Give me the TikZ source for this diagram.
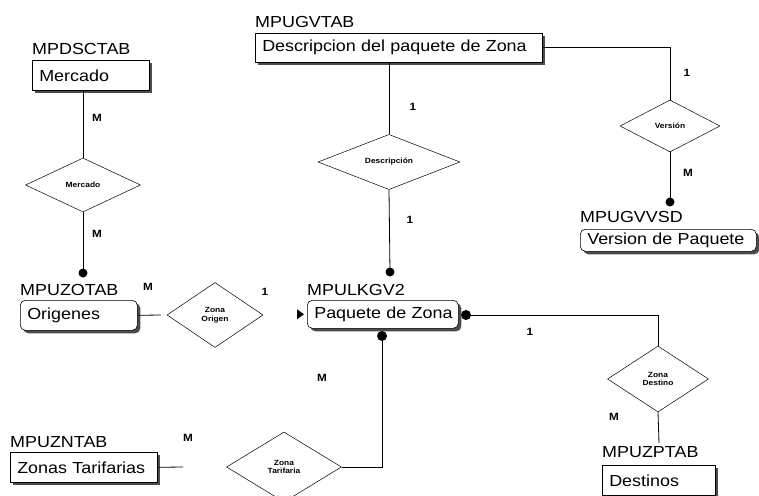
\documentclass[tikz,border=0pt]{standalone}
\usepackage{fontspec}
\setmainfont[FakeStretch=1.12]{Liberation Sans}
\usetikzlibrary{shapes.geometric,shadows}
\begin{document}
\begin{tikzpicture}[x=1pt,y=-1pt,
  ent/.style={draw, line width=0.6pt, fill=white, anchor=north west, inner xsep=7pt, inner ysep=0pt,
    align=left, font=\fontsize{16}{18}\selectfont,
    general shadow={fill=black!70, shadow xshift=3pt, shadow yshift=-3pt}},
  rent/.style={ent, rounded corners=5pt},
  tag/.style={anchor=base west, inner sep=0pt, font=\fontsize{16}{18}\selectfont},
  rel/.style={draw, diamond, line width=0.5pt, inner sep=0pt, align=center,
    font=\fontsize{7.5}{8.5}\selectfont\bfseries},
  card/.style={inner sep=0pt, font=\fontsize{10.5}{12}\selectfont\bfseries},
  ln/.style={line width=0.8pt},
  dot/.style={fill=black}
]
\useasboundingbox (0,0) rectangle (759,495);

% entities
\node[ent, text width=103pt, minimum height=30pt] (merc) at (32,60) {\mbox{Mercado}};
\node[tag] (mercT) at (32,55) {MPDSCTAB};
\node[ent, text width=273pt, minimum height=29pt] (desc) at (255,33) {\mbox{Descripcion del paquete de Zona}};
\node[tag] (descT) at (255,28) {MPUGVTAB};
\node[rent, text width=162pt, minimum height=22pt] (vers) at (580,229) {\mbox{Version de Paquete}};
\node[tag] (versT) at (580,222) {MPUGVVSD};
\node[rent, text width=103pt, minimum height=30pt] (orig) at (20,300) {\mbox{Origenes}};
\node[tag] (origT) at (20,295) {MPUZOTAB};
\node[rent, text width=137pt, minimum height=28pt] (paq) at (307,300) {\mbox{Paquete de Zona}};
\node[tag] (paqT) at (307,295) {MPULKGV2};
\node[ent, text width=133pt, minimum height=30pt] (tar) at (10,452) {\mbox{Zonas Tarifarias}};
\node[tag] (tarT) at (10,447) {MPUZNTAB};
\node[ent, text width=99pt, minimum height=30pt] (dest) at (602,465) {\mbox{Destinos}};
\node[tag] (destT) at (602,457) {MPUZPTAB};

% relationships
\node[rel, minimum width=115pt, minimum height=54pt] (dMerc) at (83,185) {Mercado};
\node[rel, minimum width=142pt, minimum height=53pt] (dDesc) at (389,162) {Descripción};
\node[rel, minimum width=100pt, minimum height=52pt] (dVer) at (670,126) {Versión};
\node[rel, minimum width=96pt, minimum height=65pt] (dOrig) at (215,315) {Zona\\Origen};
\node[rel, minimum width=101pt, minimum height=66pt] (dDest) at (658,379) {Zona\\Destino};
\node[rel, minimum width=115pt, minimum height=70pt] (dTar) at (284,467) {Zona\\Tarifaria};

% connector end points
\coordinate (pO) at (83,273);
\coordinate (pT) at (390,272);
\coordinate (pV) at (670,202);
\coordinate (pR) at (466,315);
\coordinate (pB) at (382,336);
\coordinate (eT) at (183,467);
\coordinate (eD) at (659,443);

% connectors
\draw[ln] (dMerc.north |- merc.south) -- (dMerc.north);
\draw[ln] (dMerc.south) -- (pO);
\fill[dot] (pO) circle (4.5);

\draw[ln] (dDesc.north |- desc.south) -- (dDesc.north);
\draw[ln] (dDesc.south) -- (pT);
\fill[dot] (pT) circle (4.5);

\draw[ln] (desc.east) -| (dVer.north);
\draw[ln] (dVer.south) -- (pV);
\fill[dot] (pV) circle (4.5);

\draw[ln] (orig.east) -- ([xshift=-6pt]dOrig.west);
\fill[dot] ([xshift=-10pt,yshift=5pt]paq.west) -- ([xshift=-3pt]paq.west) -- ([xshift=-10pt,yshift=-5pt]paq.west) -- cycle;

\draw[ln] (pR) -| (dDest.north);
\fill[dot] (pR) circle (5);

\draw[ln] (pB) |- (dTar.east);
\fill[dot] (pB) circle (5);

\draw[ln] (tar.east) -- (eT);
\draw[ln] (dDest.south) -- (eD);

% cardinalities
\node[card] at (97,118) {M};
\node[card] at (97,234) {M};
\node[card] at (413,107) {1};
\node[card] at (410,220) {1};
\node[card] at (687,73) {1};
\node[card] at (688,173) {M};
\node[card] at (148,287) {M};
\node[card] at (265,292) {1};
\node[card] at (322,378) {M};
\node[card] at (530,332) {1};
\node[card] at (614,417) {M};
\node[card] at (188,438) {M};
\end{tikzpicture}
\end{document}
